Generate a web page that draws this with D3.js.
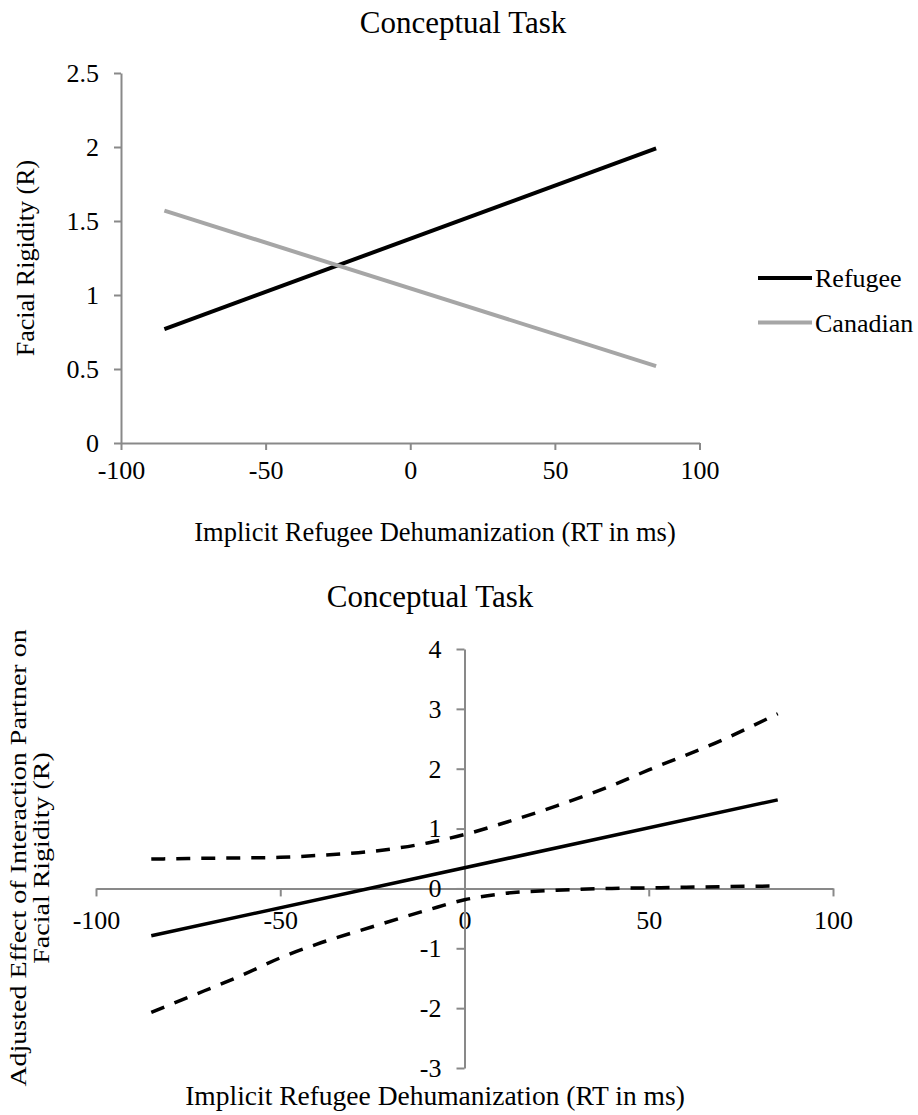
<!DOCTYPE html>
<html>
<head>
<meta charset="utf-8">
<script src="https://cdn.jsdelivr.net/npm/d3@7"></script>
<style>
  body { margin: 0; background: #fff; }
  svg { display: block; font-family: "Liberation Serif", "Times New Roman", serif; }
  .axis path, .axis line { stroke: #898989; stroke-width: 2; }
  .axis text { fill: #000; font-size: 26px; font-family: "Liberation Serif", serif; }
</style>
</head>
<body>
<svg id="chart" width="918" height="1115">
  <g id="top"></g>
  <g id="bottom"></g>
</svg>
<script>
// tick values
const xTicks = [-100, -50, 0, 50, 100],
      topYTicks = [0, 0.5, 1, 1.5, 2, 2.5],
      bottomYTicks = [-3, -2, -1, 0, 1, 2, 3, 4];

// top panel: simple slopes
const slopeX = [-85, 85],
      refugee = [0.77, 1.99],
      canadian = [1.57, 0.52];

// bottom panel: effect of partner with confidence band
const effectX = [-85, 85],
      effect = [-0.79, 1.48];
const bandX = [-85, -75, -60, -50, -40, -25, -10, 0, 10, 25, 40, 50, 70, 85],
      upper = [0.49, 0.50, 0.51, 0.52, 0.55, 0.62, 0.76, 0.90, 1.08, 1.38, 1.72, 1.98, 2.48, 2.92],
      lower = [-2.07, -1.82, -1.44, -1.16, -0.93, -0.64, -0.36, -0.19, -0.09, -0.03, 0.0, 0.01, 0.03, 0.04];

const series = [
  {name: "Refugee", values: refugee, color: "#000"},
  {name: "Canadian", values: canadian, color: "#a6a6a6"}
];

// plain hyphen minus like the original, not the unicode one d3 uses
const fmt = d => String(d);

function zip(xs, ys) {
  return xs.map((x, i) => ({x: x, y: ys[i]}))
}

function draw_top() {
  let g = d3.select("#top");
  let x = d3.scaleLinear().domain([-100, 100]).range([121, 699.5]),
      y = d3.scaleLinear().domain([0, 2.5]).range([443, 73]);

  g.append("text")
    .attr("x", 463).attr("y", 33)
    .attr("text-anchor", "middle")
    .style("font-size", "31px")
    .text("Conceptual Task");

  g.append("g")
    .attr("class", "axis")
    .attr("transform", `translate(0,${y(0)})`)
    .call(d3.axisBottom(x).tickValues(xTicks).tickSize(7).tickSizeOuter(0).tickPadding(11).tickFormat(fmt));

  g.append("g")
    .attr("class", "axis")
    .attr("transform", `translate(${x(-100)},0)`)
    .call(d3.axisLeft(y).tickValues(topYTicks).tickSize(7).tickSizeOuter(0).tickPadding(15).tickFormat(fmt));

  let line = d3.line().x(d => x(d.x)).y(d => y(d.y));

  g.selectAll("path.series")
    .data(series).enter()
    .append("path")
    .attr("class", "series")
    .attr("d", d => line(zip(slopeX, d.values)))
    .attr("fill", "none")
    .attr("stroke", d => d.color)
    .attr("stroke-width", 4);

  g.append("text")
    .attr("transform", `translate(34,${(y(0) + y(2.5)) / 2}) rotate(-90)`)
    .attr("text-anchor", "middle")
    .style("font-size", "26px")
    .text("Facial Rigidity (R)");

  g.append("text")
    .attr("x", 435).attr("y", 541)
    .attr("text-anchor", "middle")
    .style("font-size", "26.5px")
    .text("Implicit Refugee Dehumanization (RT in ms)");

  // legend
  let legend = g.selectAll("g.legend")
    .data(series).enter()
    .append("g")
    .attr("class", "legend")
    .attr("transform", (d, i) => `translate(758,${278 + i * 44.5})`);

  legend.append("line")
    .attr("x1", 0).attr("x2", 54)
    .attr("stroke", d => d.color)
    .attr("stroke-width", 4);

  legend.append("text")
    .attr("x", 57).attr("dy", "0.35em")
    .style("font-size", "26px")
    .text(d => d.name);
}

function draw_bottom() {
  let g = d3.select("#bottom");
  let x = d3.scaleLinear().domain([-100, 100]).range([96, 833]),
      y = d3.scaleLinear().domain([-3, 4]).range([1068, 649]);

  g.append("text")
    .attr("x", 430).attr("y", 607)
    .attr("text-anchor", "middle")
    .style("font-size", "31px")
    .text("Conceptual Task");

  g.append("g")
    .attr("class", "axis")
    .attr("transform", `translate(0,${y(0)})`)
    .call(d3.axisBottom(x).tickValues(xTicks).tickSize(8).tickSizeOuter(0).tickPadding(14).tickFormat(fmt));

  g.append("g")
    .attr("class", "axis")
    .attr("transform", `translate(${x(0)},0)`)
    .call(d3.axisLeft(y).tickValues(bottomYTicks).tickSize(8).tickSizeOuter(0).tickPadding(15).tickFormat(fmt));

  let line = d3.line().x(d => x(d.x)).y(d => y(d.y)).curve(d3.curveMonotoneX);

  g.append("path")
    .attr("d", line(zip(effectX, effect)))
    .attr("fill", "none")
    .attr("stroke", "#000")
    .attr("stroke-width", 3.5);

  [upper, lower].forEach(vals => {
    g.append("path")
      .attr("d", line(zip(bandX, vals)))
      .attr("fill", "none")
      .attr("stroke", "#000")
      .attr("stroke-width", 3.5)
      .attr("stroke-dasharray", "14,11");
  });

  let ylab = g.append("text")
    .attr("transform", `translate(0,858) rotate(-90) scale(1,0.82)`)
    .attr("text-anchor", "middle")
    .style("font-size", "28px");
  ylab.append("tspan").attr("x", 0).attr("y", 32).text("Adjusted Effect of Interaction Partner on");
  ylab.append("tspan").attr("x", 0).attr("y", 60).text("Facial Rigidity (R)");

  g.append("text")
    .attr("x", 435).attr("y", 1105)
    .attr("text-anchor", "middle")
    .style("font-size", "27.5px")
    .text("Implicit Refugee Dehumanization (RT in ms)");
}

draw_top();
draw_bottom();
</script>
</body>
</html>
